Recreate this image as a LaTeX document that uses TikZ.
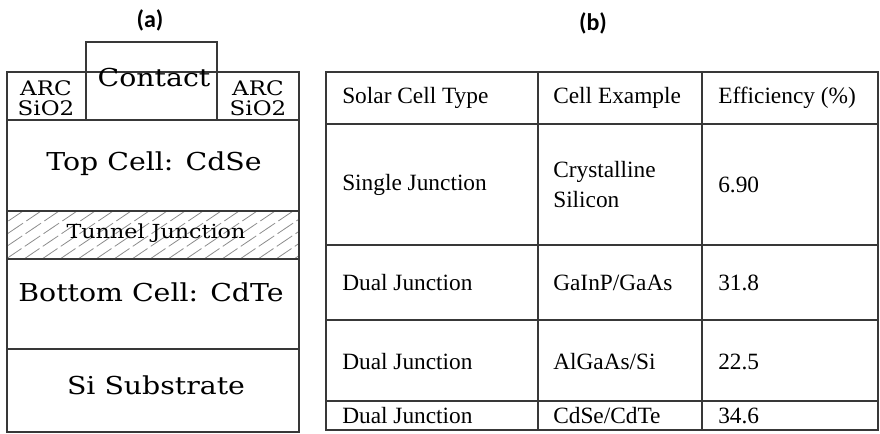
\documentclass[tikz,border=0pt]{standalone}
\usepackage{fontspec}
\setmainfont{Liberation Serif}
\newfontfamily\layerfont[FakeStretch=1.15]{DejaVu Serif}
\newfontfamily\tagfont{Carlito}
\begin{document}
\begin{tikzpicture}[x=0.75pt,y=-0.75pt,
  rule/.style={draw=black!78, line width=1.2pt},
  hatchline/.style={draw=black!45, line width=0.6pt, dash pattern=on 14pt off 3pt},
  tag/.style={font=\tagfont\bfseries\fontsize{18}{20}\selectfont},
  layer/.style={font=\layerfont\fontsize{18.5}{21}\selectfont, inner sep=0pt},
  thin layer/.style={font=\layerfont\fontsize{15}{15}\selectfont, inner sep=0pt, align=center},
  cell/.style={font=\fontsize{17.5}{22.5}\selectfont, anchor=west, inner sep=0pt, align=left}]
\useasboundingbox (0,0) rectangle (880,433);

% ---- (a) layer stack ----
\node[tag] (taga) at (150,20) {(a)};

% hatching of the tunnel junction
\begin{scope}
  \clip (7,211) rectangle (299,259);
  \foreach \i in {-120,-102,...,320}
    \draw[hatchline] (\i,259) -- ++(80,-54);
\end{scope}

\draw[rule] (86,72) -- (86,42) -- (217,42) -- (217,72);
\draw[rule] (7,120) -- (7,72) -- (299,72) -- (299,120);
\draw[rule] (86,72) -- (86,120);
\draw[rule] (217,72) -- (217,120);
\draw[rule] (7,120) rectangle (299,211);
\draw[rule] (7,211) rectangle (299,259);
\draw[rule] (7,259) rectangle (299,349);
\draw[rule] (7,349) rectangle (299,432);

\node[layer] (contact) at (154,78) {Contact};
\node[thin layer] (arcl) at (46,98) {ARC\\SiO2};
\node[thin layer] (arcr) at (258,98) {ARC\\SiO2};
\node[layer] (top) at (154,164) {Top Cell: CdSe};
\node[layer, font=\layerfont\fontsize{14.5}{16}\selectfont] (tunnel) at (156,233) {Tunnel Junction};
\node[layer] (bottom) at (151,292) {Bottom Cell: CdTe};
\node[layer] (subst) at (156,385) {Si Substrate};

% ---- (b) efficiency table ----
\node[tag] (tagb) at (593,23) {(b)};

\draw[rule] (326,72) rectangle (878,430);
\foreach \yy in {124,245,320,401}
  \draw[rule] (326,\yy) -- (878,\yy);
\foreach \xx in {538,702}
  \draw[rule] (\xx,72) -- (\xx,430);

\node[cell] (h1) at (342,98) {Solar Cell Type};
\node[cell] (h2) at (553,98) {Cell Example};
\node[cell] (h3) at (718,98) {Efficiency (\%)};

\node[cell] (r1a) at (342,185) {Single Junction};
\node[cell] (r1b) at (553,185) {Crystalline\\Silicon};
\node[cell] (r1c) at (718,185) {6.90};

\node[cell] (r2a) at (342,283) {Dual Junction};
\node[cell] (r2b) at (553,283) {GaInP/GaAs};
\node[cell] (r2c) at (718,283) {31.8};

\node[cell] (r3a) at (342,362) {Dual Junction};
\node[cell] (r3b) at (553,362) {AlGaAs/Si};
\node[cell] (r3c) at (718,362) {22.5};

\node[cell] (r4a) at (342,416) {Dual Junction};
\node[cell] (r4b) at (553,416) {CdSe/CdTe};
\node[cell] (r4c) at (718,416) {34.6};
\end{tikzpicture}
\end{document}
